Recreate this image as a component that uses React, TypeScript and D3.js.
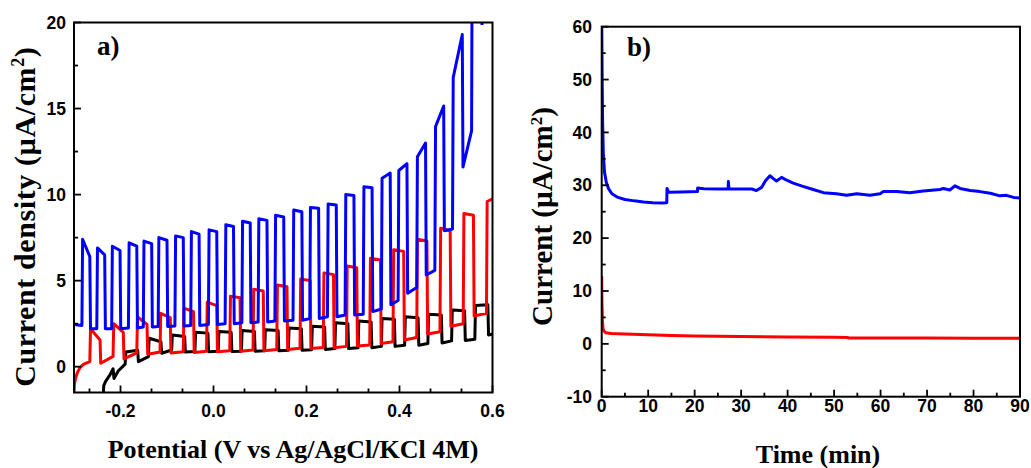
import React from 'react';
import * as d3 from 'd3';

type Pt = [number, number];

// ---------- Panel a : chopped-light LSV ----------
const potDomain: [number, number] = [-0.3, 0.6];
const jDomain: [number, number] = [-1.5, 20];
const xTicksA = [-0.2, 0, 0.2, 0.4, 0.6];
const xTickLabelsA = ['-0.2', '0.0', '0.2', '0.4', '0.6'];
const xMinorA = [-0.2667, -0.1333, -0.0667, 0.0667, 0.1333, 0.2667, 0.3333, 0.4667, 0.5333];
const yTicksA = [0, 5, 10, 15, 20];
const yTickLabelsA = ['0', '5', '10', '15', '20'];
const yMinorA = [2.5, 7.5, 12.5, 17.5];

// blue curve
const blueStart: Pt[] = [[-0.3, 2.45], [-0.283, 2.4]];
const blueRise = [-0.283, -0.251, -0.219, -0.183, -0.151, -0.119, -0.083, -0.049, -0.011, 0.025, 0.061, 0.096, 0.132, 0.171, 0.207, 0.245, 0.283, 0.322, 0.361, 0.397, 0.437, 0.476, 0.514, 0.555];
const blueFall = [-0.266, -0.234, -0.201, -0.165, -0.133, -0.1, -0.065, -0.031, 0.007, 0.043, 0.079, 0.115, 0.151, 0.19, 0.226, 0.264, 0.302, 0.341, 0.38, 0.416, 0.456, 0.495, 0.535, 0.576];
const blueOnPeak = [7.4, 6.9, 7.0, 7.2, 7.3, 7.5, 7.6, 7.85, 7.95, 8.25, 8.45, 8.6, 8.8, 9.1, 9.25, 9.45, 10.0, 10.45, 10.95, 11.4, 12.2, 13.95, 16.8, 26];
const blueOnEnd = [6.4, 6.5, 6.75, 7.0, 7.15, 7.35, 7.5, 7.7, 7.85, 8.15, 8.35, 8.5, 8.7, 9.0, 9.2, 9.4, 9.95, 10.4, 11.25, 11.8, 13.0, 15.15, 19.3, 26];
const blueOffStart = [2.2, 2.2, 2.2, 2.25, 2.3, 2.33, 2.37, 2.4, 2.45, 2.5, 2.55, 2.6, 2.65, 2.7, 2.8, 2.9, 3.0, 3.2, 3.6, 4.27, 5.33, 7.9, 11.6, 19.85];
const blueOffEnd = [2.2, 2.2, 2.25, 2.3, 2.33, 2.37, 2.4, 2.45, 2.5, 2.55, 2.6, 2.65, 2.7, 2.8, 2.9, 3.0, 3.05, 3.35, 3.85, 4.6, 5.6, 8.0, 13.7];
const blueTail: Pt[] = [];

// red curve
const redStart: Pt[] = [[-0.3, -1.6], [-0.299, -1.0], [-0.296, -0.6], [-0.292, -0.3], [-0.287, -0.05], [-0.28, 0.13], [-0.266, 0.3]];
const redRise = [-0.266, -0.216, -0.165, -0.115, -0.065, -0.015, 0.035, 0.085, 0.136, 0.186, 0.236, 0.286, 0.336, 0.386, 0.437, 0.487, 0.537, 0.587];
const redFall = [-0.244, -0.194, -0.143, -0.093, -0.043, 0.007, 0.057, 0.107, 0.158, 0.208, 0.258, 0.308, 0.359, 0.409, 0.459, 0.509, 0.559];
const redOnPeak = [2.2, 2.5, 2.9, 3.1, 3.4, 3.75, 4.1, 4.5, 4.75, 5.1, 5.45, 5.85, 6.3, 6.8, 7.4, 8.05, 8.9, 9.6];
const redOnEnd = [1.55, 2.0, 2.45, 2.85, 3.2, 3.55, 4.0, 4.4, 4.65, 5.0, 5.35, 5.75, 6.2, 6.7, 7.3, 7.9, 8.8];
const redOffStart = [0.2, 0.45, 0.72, 0.8, 0.83, 0.87, 0.9, 0.93, 1.0, 1.05, 1.1, 1.2, 1.35, 1.55, 1.9, 2.35, 2.95];
const redOffEnd = [0.6, 0.8, 0.85, 0.87, 0.9, 0.93, 0.97, 1.0, 1.07, 1.12, 1.18, 1.26, 1.45, 1.7, 2.03, 2.5, 3.1];
const redTail: Pt[] = [[0.6, 9.75]];

// black curve
const blackStart: Pt[] = [[-0.237, -1.6], [-0.236, -1.1], [-0.232, -0.85], [-0.222, -0.45], [-0.216, -0.12], [-0.214, -0.68], [-0.205, -0.25], [-0.19, 0.15]];
const blackRise = [-0.19, -0.14, -0.09, -0.04, 0.01, 0.06, 0.11, 0.161, 0.211, 0.261, 0.311, 0.361, 0.411, 0.461, 0.512, 0.562];
const blackFall = [-0.163, -0.113, -0.062, -0.012, 0.038, 0.088, 0.139, 0.189, 0.239, 0.289, 0.339, 0.389, 0.44, 0.49, 0.54, 0.59];
const blackOnPeak = [0.85, 1.65, 1.84, 2.0, 2.05, 2.1, 2.15, 2.25, 2.35, 2.55, 2.65, 2.8, 2.9, 3.05, 3.3, 3.55];
const blackOnEnd = [0.95, 1.45, 1.75, 1.95, 2.0, 2.05, 2.1, 2.2, 2.3, 2.5, 2.6, 2.75, 2.85, 3.0, 3.25, 3.6];
const blackOffStart = [0.29, 0.78, 0.85, 0.87, 0.88, 0.9, 0.92, 0.95, 1.0, 1.05, 1.1, 1.18, 1.25, 1.38, 1.52, 1.84];
const blackOffEnd = [0.58, 0.97, 0.88, 0.9, 0.9, 0.92, 0.95, 0.98, 1.05, 1.1, 1.18, 1.25, 1.35, 1.5, 1.6];
const blackTail: Pt[] = [[0.6, 1.9]];

// ---------- Panel b : chronoamperometry ----------
const timeDomain: [number, number] = [0, 90];
const iDomain: [number, number] = [-10, 60];
const xTicksB = [0, 10, 20, 30, 40, 50, 60, 70, 80, 90];
const xTickLabelsB = ['0', '10', '20', '30', '40', '50', '60', '70', '80', '90'];
const xMinorB = [5, 15, 25, 35, 45, 55, 65, 75, 85];
const yTicksB = [-10, 0, 10, 20, 30, 40, 50, 60];
const yTickLabelsB = ['-10', '0', '10', '20', '30', '40', '50', '60'];
const yMinorB = [-5, 5, 15, 25, 35, 45, 55];

const blueT = [0, 0.1, 0.2, 0.35, 0.6, 1.0, 1.5, 2.2, 3.5, 5, 7, 9, 11, 13, 14.0, 14.05, 14.4, 17, 20.6, 20.65, 22, 25, 27.2, 27.25, 27.4, 30, 32.3, 33.3, 34.4, 35.2, 36.2, 37.0, 37.6, 38.7, 39.7, 41.2, 43.3, 45.5, 47.7, 50.5, 52.7, 54.9, 57.7, 59.9, 60.6, 63.5, 66.3, 69.2, 72.8, 73.5, 74.9, 76.0, 77.1, 79.3, 81.4, 83.6, 85.7, 87.1, 88.6, 90];
const blueI = [62, 50, 42, 36, 32.5, 30.5, 29.3, 28.4, 27.7, 27.3, 27.05, 26.85, 26.7, 26.65, 26.7, 29.4, 28.7, 28.75, 28.8, 29.5, 29.35, 29.3, 29.3, 30.7, 29.3, 29.3, 29.3, 29.0, 29.6, 30.8, 31.8, 31.2, 30.8, 31.5, 31.0, 30.4, 29.8, 29.2, 28.6, 28.4, 28.1, 28.4, 28.1, 28.4, 28.8, 28.8, 28.6, 28.9, 29.2, 29.4, 29.1, 29.9, 29.4, 29.0, 28.8, 28.5, 28.0, 28.1, 27.7, 27.6];
const redT = [0, 0.05, 0.15, 0.3, 0.5, 0.9, 2, 5, 10, 15, 20, 25, 30, 40, 50, 53, 53.1, 60, 70, 80, 90];
const redI = [12.8, 8, 4.5, 2.8, 2.4, 2.1, 1.95, 1.85, 1.7, 1.6, 1.5, 1.45, 1.4, 1.3, 1.25, 1.2, 1.1, 1.1, 1.1, 1.08, 1.05];

function chopped(start: Pt[], rise: number[], fall: number[], onPeak: number[], onEnd: number[], offStart: number[], offEnd: number[], tail: Pt[]): Pt[] {
  const d = 0.0015;
  const pts: Pt[] = [...start];
  rise.forEach((r, i) => {
    if (i > 0) pts.push([r, offEnd[i - 1]]);
    pts.push([r + d, onPeak[i]]);
    if (i < fall.length) {
      pts.push([fall[i], onEnd[i]]);
      pts.push([fall[i] + d, offStart[i]]);
    }
  });
  return pts.concat(tail);
}

const TICK_FONT = "'Liberation Sans', Arial, sans-serif";
const TITLE_FONT = "'Liberation Serif', 'Times New Roman', serif";

export default function App() {
  const xA = d3.scaleLinear().domain(potDomain).range([74, 492.5]);
  const yA = d3.scaleLinear().domain(jDomain).range([392.5, 22.5]);
  const xB = d3.scaleLinear().domain(timeDomain).range([601.7, 1020]);
  const yB = d3.scaleLinear().domain(iDomain).range([396.7, 26.7]);

  const lineA = d3.line<Pt>().x(d => xA(d[0])).y(d => yA(d[1]));
  const lineB = d3.line<Pt>().x(d => xB(d[0])).y(d => yB(d[1]));

  const bluePts = chopped(blueStart, blueRise, blueFall, blueOnPeak, blueOnEnd, blueOffStart, blueOffEnd, blueTail);
  const redPts = chopped(redStart, redRise, redFall, redOnPeak, redOnEnd, redOffStart, redOffEnd, redTail);
  const blackPts = chopped(blackStart, blackRise, blackFall, blackOnPeak, blackOnEnd, blackOffStart, blackOffEnd, blackTail);

  const blueB: Pt[] = blueT.map((t, i) => [t, blueI[i]]);
  const redB: Pt[] = redT.map((t, i) => [t, redI[i]]);

  const [ax0, ax1] = xA.range();
  const [ay0, ay1] = yA.range();
  const [bx0, bx1] = xB.range();
  const [by0, by1] = yB.range();

  const major = 7;
  const minor = 4;

  return (
    <svg width={1031} height={468} style={{ position: 'absolute', left: 0, top: 0, background: '#fff' }}>
      <defs>
        <clipPath id="clipA"><rect x={ax0} y={ay1} width={ax1 - ax0} height={ay0 - ay1} /></clipPath>
        <clipPath id="clipB"><rect x={bx0} y={by1} width={bx1 - bx0} height={by0 - by1} /></clipPath>
      </defs>

      {/* Panel a */}
      <g clipPath="url(#clipA)" fill="none" strokeWidth={3} strokeLinejoin="round">
        <path d={lineA(blackPts) || ''} stroke="#000" />
        <path d={lineA(redPts) || ''} stroke="#ff0000" />
        <path d={lineA(bluePts) || ''} stroke="#0000ff" />
      </g>
      <g stroke="#000" strokeWidth={1.8}>
        {xTicksA.map(v => <line key={'xa' + v} x1={xA(v)} x2={xA(v)} y1={ay0} y2={ay0 - major} />)}
        {xMinorA.map(v => <line key={'xam' + v} x1={xA(v)} x2={xA(v)} y1={ay0} y2={ay0 - minor} />)}
        {yTicksA.map(v => <line key={'ya' + v} x1={ax0} x2={ax0 + major} y1={yA(v)} y2={yA(v)} />)}
        {yMinorA.map(v => <line key={'yam' + v} x1={ax0} x2={ax0 + minor} y1={yA(v)} y2={yA(v)} />)}
      </g>
      <rect x={ax0} y={ay1} width={ax1 - ax0} height={ay0 - ay1} fill="none" stroke="#000" strokeWidth={2} />
      <g fontFamily={TICK_FONT} fontWeight="bold" fontSize={17.5} fill="#000">
        {xTicksA.map((v, i) => <text key={'xal' + v} x={xA(v)} y={417} textAnchor="middle">{xTickLabelsA[i]}</text>)}
        {yTicksA.map((v, i) => <text key={'yal' + v} x={66} y={yA(v)} dy="0.35em" textAnchor="end">{yTickLabelsA[i]}</text>)}
      </g>
      <g fontFamily={TITLE_FONT} fontWeight="bold" fill="#000">
        <text x={293} y={457.5} fontSize={26} textAnchor="middle">Potential (V vs Ag/AgCl/KCl 4M)</text>
        <text transform="translate(35,216.7) rotate(-90)" fontSize={30} letterSpacing={0.6} textAnchor="middle">
          Current density (µA/cm<tspan dy={-11} fontSize={18}>2</tspan><tspan dy={11}>)</tspan>
        </text>
        <text x={97} y={55} fontSize={27}>a)</text>
      </g>

      {/* Panel b */}
      <g clipPath="url(#clipB)" fill="none" strokeWidth={3} strokeLinejoin="round">
        <path d={lineB(redB) || ''} stroke="#ff0000" />
        <path d={lineB(blueB) || ''} stroke="#0000ff" />
      </g>
      <g stroke="#000" strokeWidth={1.8}>
        {xTicksB.map(v => <line key={'xb' + v} x1={xB(v)} x2={xB(v)} y1={by0} y2={by0 - major} />)}
        {xMinorB.map(v => <line key={'xbm' + v} x1={xB(v)} x2={xB(v)} y1={by0} y2={by0 - minor} />)}
        {yTicksB.map(v => <line key={'yb' + v} x1={bx0} x2={bx0 + major} y1={yB(v)} y2={yB(v)} />)}
        {yMinorB.map(v => <line key={'ybm' + v} x1={bx0} x2={bx0 + minor} y1={yB(v)} y2={yB(v)} />)}
      </g>
      <rect x={bx0} y={by1} width={bx1 - bx0} height={by0 - by1} fill="none" stroke="#000" strokeWidth={2} />
      <g fontFamily={TICK_FONT} fontWeight="bold" fontSize={17.5} fill="#000">
        {xTicksB.map((v, i) => <text key={'xbl' + v} x={xB(v)} y={412} textAnchor="middle">{xTickLabelsB[i]}</text>)}
        {yTicksB.map((v, i) => <text key={'ybl' + v} x={592} y={yB(v)} dy="0.35em" textAnchor="end">{yTickLabelsB[i]}</text>)}
      </g>
      <g fontFamily={TITLE_FONT} fontWeight="bold" fill="#000">
        <text x={818} y={462.5} fontSize={26} textAnchor="middle">Time (min)</text>
        <text transform="translate(552,216.5) rotate(-90)" fontSize={29} textAnchor="middle">
          Current (µA/cm<tspan dy={-10} fontSize={17}>2</tspan><tspan dy={10}>)</tspan>
        </text>
        <text x={627} y={56} fontSize={27}>b)</text>
      </g>
    </svg>
  );
}
